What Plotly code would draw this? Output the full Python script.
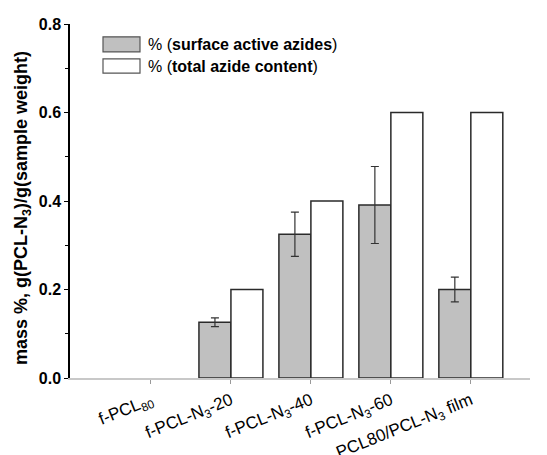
import plotly.graph_objects as go

categories = ["f-PCL<sub>80</sub>", "f-PCL-N<sub>3</sub>-20", "f-PCL-N<sub>3</sub>-40",
              "f-PCL-N<sub>3</sub>-60", "PCL80/PCL-N<sub>3</sub> film"]
surface_active = [None, 0.126, 0.325, 0.391, 0.200]
surface_err = [0.0, 0.010, 0.050, 0.087, 0.028]
total_content = [None, 0.200, 0.400, 0.600, 0.600]
y_ticks = [0.0, 0.2, 0.4, 0.6, 0.8]

FONT = "Liberation Sans, Arial, sans-serif"
EDGE = "#2a2a2a"
GRAY = "#c0c0c0"

# page body has an 8px default margin; compensate so the plot lands where the reference has it
OFF = 8
W, H = 547, 455
plot_l, plot_r = 70 - OFF, 530 - OFF
plot_t, plot_b = 24 - OFF, 378 - OFF

fig = go.Figure()
fig.add_trace(go.Bar(
    x=categories, y=surface_active, name="% (surface active azides)",
    marker=dict(color=GRAY, line=dict(color=EDGE, width=1.5)),
    error_y=dict(type="data", array=surface_err, visible=True,
                 color="#333333", thickness=1.2, width=4),
    showlegend=False,
))
fig.add_trace(go.Bar(
    x=categories, y=total_content, name="% (total azide content)",
    marker=dict(color="white", line=dict(color=EDGE, width=1.5)),
    showlegend=False,
))

def px2paper(px):
    return (px - OFF - plot_l) / (plot_r - plot_l)

def py2paper(py):
    return (plot_b - (py - OFF)) / (plot_b - plot_t)

legend_items = [("% (<b>surface active azides</b>)", GRAY, 0.771, 0.737),
                ("% (<b>total azide content</b>)", "white", 0.721, 0.689)]
for text, col, y0, y1 in legend_items:
    fig.add_shape(type="rect", xref="paper", yref="y",
                  x0=px2paper(103), x1=px2paper(140), y0=y1, y1=y0,
                  fillcolor=col, line=dict(color="#555555", width=1.2))
    fig.add_annotation(xref="paper", yref="y", x=px2paper(146), y=(y0 + y1) / 2,
                       text=text, showarrow=False, xanchor="left", yanchor="middle",
                       font=dict(family=FONT, size=16, color="black"))

# y-axis title
fig.add_annotation(xref="paper", yref="paper", x=px2paper(22), y=py2paper(208),
                   text="<b>mass %, g(PCL-N<sub>3</sub>)/g(sample weight)</b>",
                   textangle=-90, showarrow=False, xanchor="center", yanchor="middle",
                   font=dict(family=FONT, size=18, color="black"))

fig.update_layout(
    width=W, height=H,
    margin=dict(l=plot_l, r=W - plot_r, t=plot_t, b=H - plot_b, autoexpand=False),
    plot_bgcolor="white", paper_bgcolor="white",
    barmode="group", bargap=0.2, bargroupgap=0.0,
    font=dict(family=FONT, color="black"),
    xaxis=dict(
        range=[-1.0125, 4.74], showline=True, linecolor="#c8c8c8", linewidth=2,
        ticks="outside", ticklen=4, tickcolor="#999999", tickangle=-22,
        tickfont=dict(family=FONT, size=17, color="black"),
        showgrid=False, zeroline=False, automargin=False,
    ),
    yaxis=dict(
        range=[0, 0.8], tickvals=y_ticks, ticktext=[f"<b>{v:.1f}</b>" for v in y_ticks],
        showline=True, linecolor="black", linewidth=1.5,
        ticks="outside", ticklen=4, tickwidth=1.2, tickcolor="black",
        minor=dict(dtick=0.1, ticks="outside", ticklen=3, tickcolor="black"),
        tickfont=dict(family=FONT, size=16, color="black"),
        showgrid=False, zeroline=False, automargin=False,
    ),
)

fig.write_html("out.html")
